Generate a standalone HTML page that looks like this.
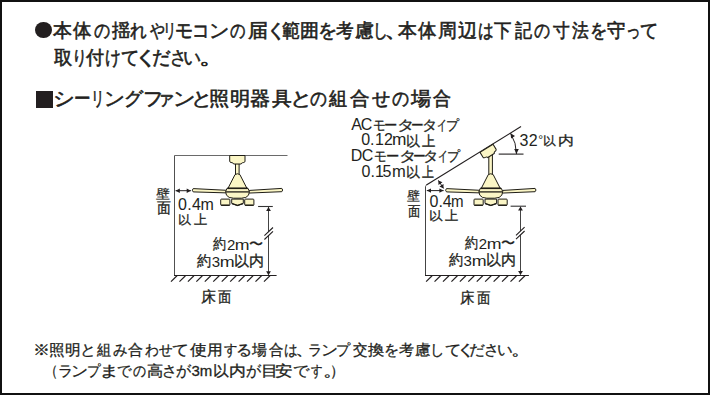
<!DOCTYPE html>
<html lang="ja">
<head>
<meta charset="utf-8">
<style>
html,body{margin:0;padding:0;background:#fff;}
body{width:710px;height:400px;position:relative;overflow:hidden;font-family:"Liberation Sans",sans-serif;color:#231f20;}
#frame{position:absolute;left:0;top:0;width:706px;height:391px;border:2px solid #111;}
#txt span{position:absolute;white-space:nowrap;line-height:1;}
#txt .h{-webkit-text-stroke:0.6px #231f20;}
#txt .n{-webkit-text-stroke:0.3px #231f20;}
#txt .d{-webkit-text-stroke:0.3px #231f20;}
.dot{position:absolute;left:34.5px;top:21.5px;width:17px;height:16.5px;border-radius:50%;background:#231f20;}
.sq{position:absolute;left:35.5px;top:90.5px;width:17.5px;height:17px;background:#231f20;}
svg{position:absolute;left:0;top:0;}
</style>
</head>
<body>
<div id="frame"></div>
<div class="dot"></div>
<div class="sq"></div>
<svg width="710" height="400" viewBox="0 0 710 400">
<g stroke="#231f20" stroke-width="1.1" fill="none" stroke-linecap="butt">
<path d="M174.5,155.5 H287.5" stroke="#6a6a6a" stroke-width="1"/>
<path d="M174.5,155.5 V275.5" stroke="#505050" stroke-width="1"/>
<path d="M174,275.5 H276.6" stroke-width="1.1"/>
<path d="M171.00,281.6 L177.00,275.8" stroke-width="1.2"/>
<path d="M179.45,281.6 L185.45,275.8" stroke-width="1.2"/>
<path d="M187.90,281.6 L193.90,275.8" stroke-width="1.2"/>
<path d="M196.35,281.6 L202.35,275.8" stroke-width="1.2"/>
<path d="M204.80,281.6 L210.80,275.8" stroke-width="1.2"/>
<path d="M213.25,281.6 L219.25,275.8" stroke-width="1.2"/>
<path d="M221.70,281.6 L227.70,275.8" stroke-width="1.2"/>
<path d="M230.15,281.6 L236.15,275.8" stroke-width="1.2"/>
<path d="M238.60,281.6 L244.60,275.8" stroke-width="1.2"/>
<path d="M247.05,281.6 L253.05,275.8" stroke-width="1.2"/>
<path d="M255.50,281.6 L261.50,275.8" stroke-width="1.2"/>
<path d="M263.95,281.6 L269.95,275.8" stroke-width="1.2"/>
<path d="M258.1,206.5 H272.8" stroke="#333"/>
<path d="M268.5,207 V274.5" stroke="#444" stroke-width="1"/>
<path d="M425.5,275.5 V186.6 Q425.5,185.6 426.6,185.0" stroke="#444" stroke-width="1"/>
<path d="M426.4,185.1 L521,126.6" stroke-width="1.15"/>
<path d="M425,275.5 H528.9" stroke-width="1.1"/>
<path d="M426.10,281.6 L432.10,275.8" stroke-width="1.2"/>
<path d="M434.54,281.6 L440.54,275.8" stroke-width="1.2"/>
<path d="M442.98,281.6 L448.98,275.8" stroke-width="1.2"/>
<path d="M451.42,281.6 L457.42,275.8" stroke-width="1.2"/>
<path d="M459.86,281.6 L465.86,275.8" stroke-width="1.2"/>
<path d="M468.30,281.6 L474.30,275.8" stroke-width="1.2"/>
<path d="M476.74,281.6 L482.74,275.8" stroke-width="1.2"/>
<path d="M485.18,281.6 L491.18,275.8" stroke-width="1.2"/>
<path d="M493.62,281.6 L499.62,275.8" stroke-width="1.2"/>
<path d="M502.06,281.6 L508.06,275.8" stroke-width="1.2"/>
<path d="M510.50,281.6 L516.50,275.8" stroke-width="1.2"/>
<path d="M518.94,281.6 L524.94,275.8" stroke-width="1.2"/>
<path d="M510.6,206.2 H526" stroke="#333"/>
<path d="M520.5,206.7 V274.5" stroke="#444" stroke-width="1"/>
<path d="M498.7,154.1 H523.5"/>
</g>
<path d="M268.50,206.90 L270.90,210.90 L266.10,210.90 Z" fill="#231f20"/>
<path d="M268.50,275.20 L266.10,271.20 L270.90,271.20 Z" fill="#231f20"/>
<path d="M520.50,206.60 L522.90,210.60 L518.10,210.60 Z" fill="#231f20"/>
<path d="M520.50,275.10 L518.10,271.10 L522.90,271.10 Z" fill="#231f20"/>
<path d="M264.40,235.70 L273.00,227.50 L273.00,231.30 L264.40,239.50 Z" fill="#fff"/><path d="M264.40,235.70 L273.00,227.50 M264.40,239.50 L273.00,231.30" stroke="#231f20" stroke-width="1.1"/>
<path d="M516.00,235.40 L524.60,227.20 L524.60,231.00 L516.00,239.20 Z" fill="#fff"/><path d="M516.00,235.40 L524.60,227.20 M516.00,239.20 L524.60,231.00" stroke="#231f20" stroke-width="1.1"/>
<path d="M175.60,190.70 L190.90,190.70" stroke="#231f20" stroke-width="1.0"/><path d="M175.60,190.70 L179.80,188.50 L179.80,192.90 Z" fill="#231f20"/><path d="M190.90,190.70 L186.70,192.90 L186.70,188.50 Z" fill="#231f20"/>
<path d="M426.80,190.60 L443.60,190.60" stroke="#231f20" stroke-width="1.0"/><path d="M426.80,190.60 L431.00,188.40 L431.00,192.80 Z" fill="#231f20"/><path d="M443.60,190.60 L439.40,192.80 L439.40,188.40 Z" fill="#231f20"/>
<path d="M438.40,180.40 L443.50,188.40" stroke="#231f20" stroke-width="1.0"/><path d="M438.40,180.40 L442.47,182.31 L438.42,184.89 Z" fill="#231f20"/><path d="M443.50,188.40 L439.43,186.49 L443.48,183.91 Z" fill="#231f20"/>
<path d="M510.54,133.18 A39.7,39.7 0 0 1 516.50,154.10" stroke="#231f20" stroke-width="1.0" fill="none"/>
<path d="M516.50,153.70 L514.20,148.90 L518.80,148.90 Z" fill="#231f20"/>
<path d="M510.54,133.18 L515.02,136.05 L511.12,138.47 Z" fill="#231f20"/>
<g stroke="#1f1d16" stroke-width="1.0" fill="#fbf6c6">
<rect x="235.5" y="163.6" width="3.6" height="11"/>
<path d="M229.7,155.5 H245.0 V161.2 Q245.0,162.3 243.8,162.5 L242.6,162.7 Q241.4,163.0 241.2,164.0 H233.6 Q233.4,163.0 232.2,162.7 L231.0,162.5 Q229.7,162.3 229.7,161.2 Z"/>
</g>
<g transform="translate(0.00,0)" stroke="#1f1d16" stroke-width="1.0" fill="#fbf6c6" stroke-linejoin="round"><path d="M193.2,188.6 Q191.4,190.2 193.2,191.9 L226.8,192.9 L226.8,190.3 Z"/><path d="M248.2,190.5 L248.2,193.1 L281.8,191.7 Q283.6,190.0 281.8,188.4 Z"/><path d="M235.0,174.6 Q237.4,172.9 239.9,174.6 L246.9,188.3 H228.0 Z"/><path d="M227.0,188.3 H248.0 Q250.6,191.5 248.5,195.2 Q246.6,198.2 241.5,198.2 H233.5 Q228.4,198.2 226.5,195.2 Q224.4,191.5 227.0,188.3 Z"/><path d="M225.6,191.9 H249.4" stroke-width="1.3" fill="none"/><path d="M227.2,188.4 H247.8" stroke-width="1.4" fill="none"/><rect x="220.7" y="199.1" width="9.2" height="6.3" rx="0.8"/><path d="M231.7,199.1 H243.3 V203.4 L237.5,205.6 L231.7,203.4 Z"/><rect x="244.7" y="199.1" width="9.2" height="6.3" rx="0.8"/><path d="M221,205.1 H229.6 M245,205.1 H253.6 M232,203.6 L237.5,205.4 L243,203.6" stroke-width="1.4" fill="none"/></g>
<g stroke="#1f1d16" stroke-width="1.0" fill="#fbf6c6">
<rect x="488.8" y="154" width="3.6" height="20.6"/>
<path d="M229.7,155.5 H245.0 V161.2 Q245.0,162.3 243.8,162.5 L242.6,162.7 Q241.4,163.0 241.2,164.0 H233.6 Q233.4,163.0 232.2,162.7 L231.0,162.5 Q229.7,162.3 229.7,161.2 Z" transform="translate(486.5,148.3) rotate(-31.8) translate(-237.35,-155.5)"/>
</g>
<g transform="translate(253.30,0)" stroke="#1f1d16" stroke-width="1.0" fill="#fbf6c6" stroke-linejoin="round"><path d="M193.2,188.6 Q191.4,190.2 193.2,191.9 L226.8,192.9 L226.8,190.3 Z"/><path d="M248.2,190.5 L248.2,193.1 L281.8,191.7 Q283.6,190.0 281.8,188.4 Z"/><path d="M235.0,174.6 Q237.4,172.9 239.9,174.6 L246.9,188.3 H228.0 Z"/><path d="M227.0,188.3 H248.0 Q250.6,191.5 248.5,195.2 Q246.6,198.2 241.5,198.2 H233.5 Q228.4,198.2 226.5,195.2 Q224.4,191.5 227.0,188.3 Z"/><path d="M225.6,191.9 H249.4" stroke-width="1.3" fill="none"/><path d="M227.2,188.4 H247.8" stroke-width="1.4" fill="none"/><rect x="220.7" y="199.1" width="9.2" height="6.3" rx="0.8"/><path d="M231.7,199.1 H243.3 V203.4 L237.5,205.6 L231.7,203.4 Z"/><rect x="244.7" y="199.1" width="9.2" height="6.3" rx="0.8"/><path d="M221,205.1 H229.6 M245,205.1 H253.6 M232,203.6 L237.5,205.4 L243,203.6" stroke-width="1.4" fill="none"/></g>
</svg>
<div id="txt">
<span class="h" style="left:53.3px;top:21.0px;font-size:19px">本</span>
<span class="h" style="left:73.4px;top:21.0px;font-size:19px;transform:scaleX(0.967);transform-origin:0px 0">体</span>
<span class="h" style="left:93.5px;top:21.0px;font-size:19px;transform:scaleX(0.847);transform-origin:0px 0">の</span>
<span class="h" style="left:111.6px;top:21.0px;font-size:19px;transform:scaleX(0.967);transform-origin:0px 0">揺</span>
<span class="h" style="left:130.3px;top:21.0px;font-size:19px;transform:scaleX(0.878);transform-origin:1px 0">れ</span>
<span class="h" style="left:149.8px;top:21.0px;font-size:19px;transform:scaleX(0.778);transform-origin:0px 0">や</span>
<span class="h" style="left:161.8px;top:21.0px;font-size:19px;transform:scaleX(0.700);transform-origin:4px 0">リ</span>
<span class="h" style="left:174.9px;top:21.0px;font-size:19px;transform:scaleX(0.941);transform-origin:1px 0">モ</span>
<span class="h" style="left:192.3px;top:21.0px;font-size:19px;transform:scaleX(0.923);transform-origin:3px 0">コ</span>
<span class="h" style="left:208.9px;top:21.0px;font-size:19px;transform:scaleX(1.056);transform-origin:2px 0">ン</span>
<span class="h" style="left:230.4px;top:21.0px;font-size:19px;transform:scaleX(0.811);transform-origin:0px 0">の</span>
<span class="h" style="left:248.2px;top:21.0px;font-size:19px;transform:scaleX(1.059);transform-origin:1px 0">届</span>
<span class="h" style="left:265.6px;top:21.0px;font-size:19px;transform:scaleX(1.087);transform-origin:5px 0">く</span>
<span class="h" style="left:281.6px;top:21.0px;font-size:19px;transform:scaleX(0.950);transform-origin:0px 0">範</span>
<span class="h" style="left:300.4px;top:21.0px;font-size:19px">囲</span>
<span class="h" style="left:318.2px;top:21.0px;font-size:19px">を</span>
<span class="h" style="left:335.9px;top:21.0px;font-size:19px;transform:scaleX(0.928);transform-origin:1px 0">考</span>
<span class="h" style="left:354.9px;top:21.0px;font-size:19px">慮</span>
<span class="h" style="left:371.7px;top:21.0px;font-size:19px;transform:scaleX(0.783);transform-origin:4px 0">し</span>
<span class="h" style="left:385.1px;top:21.0px;font-size:19px;transform:scaleX(1.350);transform-origin:2px 0">、</span>
<span class="h" style="left:397.8px;top:21.0px;font-size:19px">本</span>
<span class="h" style="left:417.9px;top:21.0px;font-size:19px;transform:scaleX(0.967);transform-origin:0px 0">体</span>
<span class="h" style="left:437.7px;top:21.0px;font-size:19px">周</span>
<span class="h" style="left:458.1px;top:21.0px;font-size:19px">辺</span>
<span class="h" style="left:477.9px;top:21.0px;font-size:19px;transform:scaleX(0.824);transform-origin:1px 0">は</span>
<span class="h" style="left:494.3px;top:21.0px;font-size:19px;transform:scaleX(0.916);transform-origin:0px 0">下</span>
<span class="h" style="left:514.7px;top:21.0px;font-size:19px;transform:scaleX(0.900);transform-origin:0px 0">記</span>
<span class="h" style="left:533.8px;top:21.0px;font-size:19px;transform:scaleX(0.842);transform-origin:0px 0">の</span>
<span class="h" style="left:552.5px;top:21.0px;font-size:19px;transform:scaleX(0.884);transform-origin:0px 0">寸</span>
<span class="h" style="left:571.9px;top:21.0px;font-size:19px;transform:scaleX(0.884);transform-origin:0px 0">法</span>
<span class="h" style="left:589.8px;top:21.0px;font-size:19px;transform:scaleX(0.907);transform-origin:2px 0">を</span>
<span class="h" style="left:607.4px;top:21.0px;font-size:19px;transform:scaleX(0.967);transform-origin:0px 0">守</span>
<span class="h" style="left:625.2px;top:21.0px;font-size:19px;transform:scaleX(0.764);transform-origin:3px 0">っ</span>
<span class="h" style="left:639.9px;top:21.0px;font-size:19px;transform:scaleX(0.962);transform-origin:1px 0">て</span>
<span class="h" style="left:53.7px;top:48.4px;font-size:19px;transform:scaleX(0.967);transform-origin:0px 0">取</span>
<span class="h" style="left:71.1px;top:48.4px;font-size:19px;transform:scaleX(0.791);transform-origin:4px 0">り</span>
<span class="h" style="left:85.8px;top:48.4px;font-size:19px;transform:scaleX(0.953);transform-origin:0px 0">付</span>
<span class="h" style="left:104.9px;top:48.4px;font-size:19px;transform:scaleX(0.829);transform-origin:1px 0">け</span>
<span class="h" style="left:121.0px;top:48.4px;font-size:19px;transform:scaleX(0.963);transform-origin:1px 0">て</span>
<span class="h" style="left:135.0px;top:48.4px;font-size:19px;transform:scaleX(1.262);transform-origin:5px 0">く</span>
<span class="h" style="left:151.8px;top:48.4px;font-size:19px;transform:scaleX(0.967);transform-origin:1px 0">だ</span>
<span class="h" style="left:169.5px;top:48.4px;font-size:19px;transform:scaleX(0.877);transform-origin:2px 0">さ</span>
<span class="h" style="left:183.3px;top:48.4px;font-size:19px;transform:scaleX(0.941);transform-origin:1px 0">い</span>
<span class="h" style="left:199.7px;top:48.4px;font-size:19px;transform:scaleX(1.350);transform-origin:2px 0">。</span>
<span class="h" style="left:53.4px;top:89.0px;font-size:19px;transform:scaleX(1.131);transform-origin:2px 0">シ</span>
<span class="h" style="left:73.8px;top:89.0px;font-size:19px;transform:scaleX(0.871);transform-origin:1px 0">ー</span>
<span class="h" style="left:90.3px;top:89.0px;font-size:19px;transform:scaleX(0.700);transform-origin:4px 0">リ</span>
<span class="h" style="left:104.3px;top:89.0px;font-size:19px;transform:scaleX(1.088);transform-origin:2px 0">ン</span>
<span class="h" style="left:124.4px;top:89.0px;font-size:19px">グ</span>
<span class="h" style="left:143.2px;top:89.0px;font-size:19px;transform:scaleX(1.067);transform-origin:2px 0">フ</span>
<span class="h" style="left:157.2px;top:89.0px;font-size:19px;transform:scaleX(0.931);transform-origin:4px 0">ァ</span>
<span class="h" style="left:173.3px;top:89.0px;font-size:19px;transform:scaleX(1.169);transform-origin:2px 0">ン</span>
<span class="h" style="left:191.4px;top:89.0px;font-size:19px;transform:scaleX(1.117);transform-origin:3px 0">と</span>
<span class="h" style="left:209.4px;top:89.0px;font-size:19px;transform:scaleX(1.065);transform-origin:1px 0">照</span>
<span class="h" style="left:229.5px;top:89.0px;font-size:19px;transform:scaleX(1.065);transform-origin:1px 0">明</span>
<span class="h" style="left:250.3px;top:89.0px;font-size:19px;transform:scaleX(1.059);transform-origin:1px 0">器</span>
<span class="h" style="left:271.7px;top:89.0px;font-size:19px;transform:scaleX(1.039);transform-origin:0px 0">具</span>
<span class="h" style="left:290.8px;top:89.0px;font-size:19px;transform:scaleX(1.167);transform-origin:3px 0">と</span>
<span class="h" style="left:309.8px;top:89.0px;font-size:19px;transform:scaleX(0.884);transform-origin:0px 0">の</span>
<span class="h" style="left:328.6px;top:89.0px;font-size:19px;transform:scaleX(0.953);transform-origin:0px 0">組</span>
<span class="h" style="left:349.6px;top:89.0px;font-size:19px;transform:scaleX(1.033);transform-origin:0px 0">合</span>
<span class="h" style="left:372.1px;top:89.0px;font-size:19px;transform:scaleX(0.950);transform-origin:0px 0">せ</span>
<span class="h" style="left:391.5px;top:89.0px;font-size:19px;transform:scaleX(0.895);transform-origin:0px 0">の</span>
<span class="h" style="left:410.8px;top:89.0px;font-size:19px;transform:scaleX(1.063);transform-origin:0px 0">場</span>
<span class="h" style="left:433.3px;top:89.0px;font-size:19px;transform:scaleX(0.950);transform-origin:0px 0">合</span>
<span class="n" style="left:33.1px;top:341.5px;font-size:15px;transform:scaleX(1.127);transform-origin:2px 0">※</span>
<span class="n" style="left:49.3px;top:341.5px;font-size:15px;transform:scaleX(1.038);transform-origin:1px 0">照</span>
<span class="n" style="left:65.1px;top:341.5px;font-size:15px;transform:scaleX(1.038);transform-origin:1px 0">明</span>
<span class="n" style="left:80.4px;top:341.5px;font-size:15px;transform:scaleX(1.070);transform-origin:2px 0">と</span>
<span class="n" style="left:96.7px;top:341.5px;font-size:15px;transform:scaleX(0.940);transform-origin:0px 0">組</span>
<span class="n" style="left:113.0px;top:341.5px;font-size:15px;transform:scaleX(0.964);transform-origin:0px 0">み</span>
<span class="n" style="left:128.2px;top:341.5px;font-size:15px">合</span>
<span class="n" style="left:144.6px;top:341.5px;font-size:15px;transform:scaleX(0.921);transform-origin:0px 0">わ</span>
<span class="n" style="left:159.2px;top:341.5px;font-size:15px;transform:scaleX(0.900);transform-origin:0px 0">せ</span>
<span class="n" style="left:172.4px;top:341.5px;font-size:15px;transform:scaleX(1.125);transform-origin:1px 0">て</span>
<span class="n" style="left:190.3px;top:341.5px;font-size:15px;transform:scaleX(1.129);transform-origin:0px 0">使</span>
<span class="n" style="left:206.7px;top:341.5px;font-size:15px;transform:scaleX(1.046);transform-origin:1px 0">用</span>
<span class="n" style="left:224.1px;top:341.5px;font-size:15px;transform:scaleX(0.886);transform-origin:0px 0">す</span>
<span class="n" style="left:236.4px;top:341.5px;font-size:15px;transform:scaleX(1.073);transform-origin:2px 0">る</span>
<span class="n" style="left:251.9px;top:341.5px;font-size:15px">場</span>
<span class="n" style="left:268.8px;top:341.5px;font-size:15px;transform:scaleX(0.964);transform-origin:0px 0">合</span>
<span class="n" style="left:283.6px;top:341.5px;font-size:15px;transform:scaleX(0.908);transform-origin:1px 0">は</span>
<span class="n" style="left:296.0px;top:341.5px;font-size:15px;transform:scaleX(1.350);transform-origin:2px 0">、</span>
<span class="n" style="left:308.0px;top:341.5px;font-size:15px;transform:scaleX(0.942);transform-origin:1px 0">ラ</span>
<span class="n" style="left:320.5px;top:341.5px;font-size:15px;transform:scaleX(1.125);transform-origin:2px 0">ン</span>
<span class="n" style="left:336.2px;top:341.5px;font-size:15px;transform:scaleX(0.940);transform-origin:1px 0">プ</span>
<span class="n" style="left:353.0px;top:341.5px;font-size:15px;transform:scaleX(0.964);transform-origin:0px 0">交</span>
<span class="n" style="left:367.8px;top:341.5px;font-size:15px;transform:scaleX(1.086);transform-origin:0px 0">換</span>
<span class="n" style="left:383.8px;top:341.5px;font-size:15px">を</span>
<span class="n" style="left:399.4px;top:341.5px;font-size:15px">考</span>
<span class="n" style="left:414.7px;top:341.5px;font-size:15px;transform:scaleX(1.050);transform-origin:1px 0">慮</span>
<span class="n" style="left:430.2px;top:341.5px;font-size:15px;transform:scaleX(0.950);transform-origin:3px 0">し</span>
<span class="n" style="left:444.6px;top:341.5px;font-size:15px;transform:scaleX(1.083);transform-origin:1px 0">て</span>
<span class="n" style="left:456.8px;top:341.5px;font-size:15px;transform:scaleX(1.317);transform-origin:4px 0">く</span>
<span class="n" style="left:469.4px;top:341.5px;font-size:15px;transform:scaleX(1.050);transform-origin:1px 0">だ</span>
<span class="n" style="left:484.2px;top:341.5px;font-size:15px">さ</span>
<span class="n" style="left:496.5px;top:341.5px;font-size:15px;transform:scaleX(1.038);transform-origin:1px 0">い</span>
<span class="n" style="left:511.1px;top:341.5px;font-size:15px;transform:scaleX(1.350);transform-origin:1px 0">。</span>
<span class="n" style="left:44.1px;top:363.0px;font-size:15px;transform:scaleX(0.850);transform-origin:9px 0">（</span>
<span class="n" style="left:58.3px;top:363.0px;font-size:15px">ラ</span>
<span class="n" style="left:71.4px;top:363.0px;font-size:15px;transform:scaleX(1.125);transform-origin:2px 0">ン</span>
<span class="n" style="left:87.0px;top:363.0px;font-size:15px;transform:scaleX(0.900);transform-origin:1px 0">プ</span>
<span class="n" style="left:100.2px;top:363.0px;font-size:15px;transform:scaleX(1.350);transform-origin:3px 0">ま</span>
<span class="n" style="left:117.4px;top:363.0px;font-size:15px;transform:scaleX(0.964);transform-origin:1px 0">で</span>
<span class="n" style="left:133.0px;top:363.0px;font-size:15px;transform:scaleX(0.867);transform-origin:0px 0">の</span>
<span class="n" style="left:146.7px;top:363.0px;font-size:15px;transform:scaleX(1.085);transform-origin:1px 0">高</span>
<span class="n" style="left:161.5px;top:363.0px;font-size:15px">さ</span>
<span class="n" style="left:175.8px;top:363.0px;font-size:15px">が</span>
<span class="n" style="left:191.4px;top:363.0px;font-size:15px">3</span>
<span class="n" style="left:199.8px;top:363.0px;font-size:15px">m</span>
<span class="n" style="left:212.7px;top:363.0px;font-size:15px;transform:scaleX(1.050);transform-origin:1px 0">以</span>
<span class="n" style="left:229.1px;top:363.0px;font-size:15px;transform:scaleX(1.123);transform-origin:1px 0">内</span>
<span class="n" style="left:246.4px;top:363.0px;font-size:15px">が</span>
<span class="n" style="left:260.6px;top:363.0px;font-size:15px;transform:scaleX(1.140);transform-origin:2px 0">目</span>
<span class="n" style="left:274.9px;top:363.0px;font-size:15px;transform:scaleX(1.169);transform-origin:1px 0">安</span>
<span class="n" style="left:293.3px;top:363.0px;font-size:15px;transform:scaleX(1.086);transform-origin:1px 0">で</span>
<span class="n" style="left:310.8px;top:363.0px;font-size:15px;transform:scaleX(0.764);transform-origin:0px 0">す</span>
<span class="n" style="left:323.1px;top:363.0px;font-size:15px;transform:scaleX(1.350);transform-origin:1px 0">。</span>
<span class="n" style="left:330.3px;top:363.0px;font-size:15px;transform:scaleX(0.950);transform-origin:2px 0">）</span>
<span class="l" style="left:351.2px;top:116.6px;font-size:16px">A</span>
<span class="l" style="left:360.7px;top:116.6px;font-size:16px">C</span>
<span class="d" style="left:372.7px;top:118.3px;font-size:14px;transform:scaleX(0.908);transform-origin:1px 0">モ</span>
<span class="d" style="left:384.4px;top:118.3px;font-size:14px;transform:scaleX(0.950);transform-origin:1px 0">ー</span>
<span class="d" style="left:397.2px;top:118.3px;font-size:14px;transform:scaleX(1.250);transform-origin:2px 0">タ</span>
<span class="d" style="left:411.3px;top:118.3px;font-size:14px;transform:scaleX(0.900);transform-origin:1px 0">ー</span>
<span class="d" style="left:422.0px;top:118.3px;font-size:14px;transform:scaleX(1.100);transform-origin:2px 0">タ</span>
<span class="d" style="left:436.6px;top:118.3px;font-size:14px;transform:scaleX(0.700);transform-origin:1px 0">イ</span>
<span class="d" style="left:445.7px;top:118.3px;font-size:14px;transform:scaleX(0.929);transform-origin:1px 0">プ</span>
<span class="l" style="left:361.2px;top:132.4px;font-size:16px">0</span>
<span class="l" style="left:370.0px;top:132.4px;font-size:16px">.</span>
<span class="l" style="left:375.0px;top:132.4px;font-size:16px">1</span>
<span class="l" style="left:384.0px;top:132.4px;font-size:16px">2</span>
<span class="l" style="left:391.8px;top:132.4px;font-size:16px;transform:scaleX(1.083);transform-origin:1px 0">m</span>
<span class="d" style="left:405.9px;top:134.1px;font-size:14px">以</span>
<span class="d" style="left:422.0px;top:134.1px;font-size:14px;transform:scaleX(0.957);transform-origin:0px 0">上</span>
<span class="l" style="left:350.8px;top:147.5px;font-size:16px">D</span>
<span class="l" style="left:361.8px;top:147.5px;font-size:16px">C</span>
<span class="d" style="left:374.0px;top:149.2px;font-size:14px;transform:scaleX(0.908);transform-origin:1px 0">モ</span>
<span class="d" style="left:385.7px;top:149.2px;font-size:14px;transform:scaleX(0.950);transform-origin:1px 0">ー</span>
<span class="d" style="left:398.5px;top:149.2px;font-size:14px;transform:scaleX(1.250);transform-origin:2px 0">タ</span>
<span class="d" style="left:412.6px;top:149.2px;font-size:14px;transform:scaleX(0.900);transform-origin:1px 0">ー</span>
<span class="d" style="left:423.2px;top:149.2px;font-size:14px;transform:scaleX(1.110);transform-origin:2px 0">タ</span>
<span class="d" style="left:437.9px;top:149.2px;font-size:14px;transform:scaleX(0.700);transform-origin:1px 0">イ</span>
<span class="d" style="left:447.0px;top:149.2px;font-size:14px;transform:scaleX(0.929);transform-origin:1px 0">プ</span>
<span class="l" style="left:361.4px;top:163.6px;font-size:16px">0</span>
<span class="l" style="left:370.5px;top:163.6px;font-size:16px">.</span>
<span class="l" style="left:375.0px;top:163.6px;font-size:16px">1</span>
<span class="l" style="left:382.4px;top:163.6px;font-size:16px">5</span>
<span class="l" style="left:391.9px;top:163.6px;font-size:16px;transform:scaleX(1.033);transform-origin:1px 0">m</span>
<span class="d" style="left:405.7px;top:165.3px;font-size:14px">以</span>
<span class="d" style="left:421.8px;top:165.3px;font-size:14px;transform:scaleX(0.857);transform-origin:0px 0">上</span>
<span class="l" style="left:519.4px;top:133.1px;font-size:16px">3</span>
<span class="l" style="left:528.7px;top:133.1px;font-size:16px">2</span>
<span class="l" style="left:537.8px;top:133.0px;font-size:16px;transform:scale(0.760,0.800);transform-origin:1px 1px">°</span>
<span class="d" style="left:543.3px;top:133.8px;font-size:14px;transform:scale(0.946,0.886);transform-origin:1px 0px">以</span>
<span class="d" style="left:557.7px;top:133.9px;font-size:14px;transform:scale(1.125,0.921);transform-origin:1px 0px">内</span>
<span class="d" style="left:155.9px;top:187.9px;font-size:14px;transform:scale(1.000,0.864);transform-origin:0px 0px">壁</span>
<span class="d" style="left:156.5px;top:201.0px;font-size:14px;transform:scale(0.964,1.038);transform-origin:0px 1px">面</span>
<span class="l" style="left:178.1px;top:197.0px;font-size:16px">0</span>
<span class="l" style="left:187.2px;top:197.0px;font-size:16px">.</span>
<span class="l" style="left:191.9px;top:197.0px;font-size:16px">4</span>
<span class="l" style="left:200.5px;top:197.0px;font-size:16px">m</span>
<span class="d" style="left:178.0px;top:214.2px;font-size:13.5px;transform:scale(0.954,0.879);transform-origin:1px -1px">以</span>
<span class="d" style="left:193.6px;top:214.2px;font-size:13.5px;transform:scale(0.964,0.946);transform-origin:0px -1px">上</span>
<span class="d" style="left:213.2px;top:237.2px;font-size:14.5px;transform:scaleX(0.871);transform-origin:0px 0">約</span>
<span class="l" style="left:227.0px;top:236.8px;font-size:15px">2</span>
<span class="l" style="left:235.0px;top:236.8px;font-size:15px;transform:scaleX(1.182);transform-origin:1px 0">m</span>
<span class="d" style="left:249.2px;top:237.2px;font-size:14.5px;transform:scaleX(0.938);transform-origin:1px 0">〜</span>
<span class="d" style="left:197.0px;top:254.0px;font-size:14.5px;transform:scaleX(0.943);transform-origin:0px 0">約</span>
<span class="l" style="left:211.7px;top:253.6px;font-size:15px">3</span>
<span class="l" style="left:219.9px;top:253.6px;font-size:15px;transform:scaleX(1.191);transform-origin:1px 0">m</span>
<span class="d" style="left:234.1px;top:254.0px;font-size:14.5px">以</span>
<span class="d" style="left:248.8px;top:254.0px;font-size:14.5px">内</span>
<span class="d" style="left:201.4px;top:289.7px;font-size:14.5px">床</span>
<span class="d" style="left:218.2px;top:289.7px;font-size:14.5px;transform:scaleX(0.893);transform-origin:0px 0">面</span>
<span class="d" style="left:406.9px;top:190.3px;font-size:14px;transform:scale(0.900,0.836);transform-origin:0px 0px">壁</span>
<span class="d" style="left:407.5px;top:203.7px;font-size:14px;transform:scale(0.857,0.969);transform-origin:0px 1px">面</span>
<span class="l" style="left:429.6px;top:193.7px;font-size:16px">0</span>
<span class="l" style="left:438.5px;top:193.7px;font-size:16px">.</span>
<span class="l" style="left:442.7px;top:193.7px;font-size:16px">4</span>
<span class="l" style="left:451.1px;top:193.7px;font-size:16px;transform:scaleX(0.942);transform-origin:1px 0">m</span>
<span class="d" style="left:429.0px;top:210.4px;font-size:13.5px;transform:scale(1.000,0.879);transform-origin:1px -1px">以</span>
<span class="d" style="left:444.5px;top:210.4px;font-size:13.5px;transform:scale(0.964,0.946);transform-origin:0px -1px">上</span>
<span class="d" style="left:464.9px;top:236.4px;font-size:14.5px;transform:scaleX(0.871);transform-origin:0px 0">約</span>
<span class="l" style="left:478.7px;top:236.0px;font-size:15px">2</span>
<span class="l" style="left:486.7px;top:236.0px;font-size:15px;transform:scaleX(1.182);transform-origin:1px 0">m</span>
<span class="d" style="left:500.9px;top:236.4px;font-size:14.5px;transform:scaleX(0.938);transform-origin:1px 0">〜</span>
<span class="d" style="left:448.9px;top:253.2px;font-size:14.5px;transform:scaleX(0.943);transform-origin:0px 0">約</span>
<span class="l" style="left:463.4px;top:252.8px;font-size:15px">3</span>
<span class="l" style="left:471.6px;top:252.8px;font-size:15px;transform:scaleX(1.191);transform-origin:1px 0">m</span>
<span class="d" style="left:485.8px;top:253.2px;font-size:14.5px">以</span>
<span class="d" style="left:500.5px;top:253.2px;font-size:14.5px">内</span>
<span class="d" style="left:459.7px;top:290.7px;font-size:14.5px;transform:scaleX(0.964);transform-origin:1px 0">床</span>
<span class="d" style="left:476.5px;top:290.7px;font-size:14.5px;transform:scaleX(0.900);transform-origin:0px 0">面</span>
</div>
</body>
</html>
